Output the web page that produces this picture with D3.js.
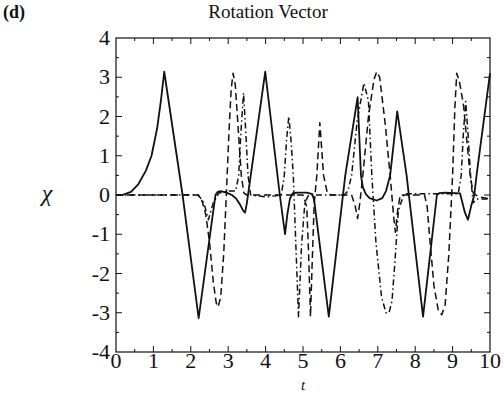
<!DOCTYPE html>
<html>
<head>
<meta charset="utf-8">
<script src="https://cdn.jsdelivr.net/npm/d3@7"></script>
<style>
  body { margin: 0; background: #fff; }
  text { font-family: "Liberation Serif", "DejaVu Serif", serif; fill: #111; }
</style>
</head>
<body>
<svg id="chart" width="504" height="399"></svg>
<script>
// Tick values for the frame
const xTicks = [0, 1, 2, 3, 4, 5, 6, 7, 8, 9, 10];
const yTicks = [-4, -3, -2, -1, 0, 1, 2, 3, 4];

// Component 1 (solid)
const tSolid = [0, 0.2, 0.4, 0.6, 0.8, 0.95, 1.1, 1.2, 1.29, 1.78, 2.21, 2.51, 2.66, 2.72, 2.8, 2.95, 3.1, 3.22, 3.32, 3.4, 3.45, 3.5, 3.99, 4.38, 4.52, 4.58, 4.65, 4.72, 4.85, 5.1, 5.25, 5.3, 5.37, 5.69, 6.13, 6.46, 6.55, 6.6, 6.68, 6.78, 6.97, 7.12, 7.22, 7.33, 7.52, 7.77, 8.21, 8.58, 8.65, 8.8, 9.2, 9.33, 9.41, 9.5, 9.58, 9.64, 10.0];
const vSolid = [0, 0.01, 0.08, 0.28, 0.62, 1.0, 1.7, 2.4, 3.14, 0, -3.14, -1.04, 0, 0.08, 0.1, 0.06, 0, -0.1, -0.25, -0.4, -0.45, -0.2, 3.14, 0, -1.0, -0.5, -0.1, 0.04, 0.06, 0.06, 0.02, -0.14, -0.68, -3.1, 0.5, 2.49, 0.5, 0.2, 0.02, -0.08, -0.14, -0.08, 0.1, 0.5, 2.13, 0.5, -3.1, 0, 0.05, 0.06, 0.04, -0.45, -0.63, -0.27, 0, 0.5, 3.1];

// Component 2 (dashed)
const tDash = [0, 2.2, 2.3, 2.4, 2.5, 2.6, 2.68, 2.73, 2.8, 2.88, 2.95, 3.02, 3.08, 3.13, 3.19, 3.26, 3.35, 3.42, 3.5, 4.4, 5.0, 5.1, 5.15, 5.2, 5.25, 5.3, 5.37, 5.45, 5.55, 5.65, 5.75, 6.3, 6.4, 6.46, 6.52, 6.6, 6.75, 6.9, 6.97, 7.05, 7.2, 7.33, 7.42, 7.47, 7.53, 7.6, 8.25, 8.32, 8.38, 8.5, 8.62, 8.71, 8.8, 8.9, 9.0, 9.06, 9.11, 9.18, 9.29, 9.4, 9.47, 9.55, 9.7, 10.0];
const vDash = [0, 0, -0.15, -0.5, -1.2, -2.2, -2.75, -2.85, -2.6, -1.5, 0, 1.6, 2.7, 3.1, 2.8, 1.8, 0.5, 0.05, 0, 0, 0, -0.3, -1.5, -3.1, -1.6, -0.2, 0.5, 1.84, 0.5, 0.05, 0, 0, -0.3, -0.6, -0.2, 0.5, 2.0, 2.95, 3.14, 3.0, 1.8, 0.5, -0.5, -0.95, -0.4, 0, 0, -0.3, -1.0, -2.3, -2.95, -3.05, -2.8, -1.5, 0.5, 2.2, 3.1, 2.9, 2.3, 1.2, 0.5, 0.05, -0.05, -0.1];

// Component 3 (dash-dot)
const tDot = [0, 2.2, 2.35, 2.47, 2.6, 2.75, 3.0, 3.2, 3.28, 3.34, 3.41, 3.47, 3.53, 3.6, 4.0, 4.42, 4.5, 4.56, 4.62, 4.68, 4.74, 4.81, 4.88, 4.96, 5.05, 5.15, 6.1, 6.2, 6.3, 6.45, 6.63, 6.75, 6.84, 6.95, 7.1, 7.22, 7.3, 7.38, 7.45, 7.55, 7.7, 9.15, 9.23, 9.29, 9.35, 9.41, 9.48, 9.55, 9.65, 10.0];
const vDot = [0, 0, -0.2, -0.63, -0.2, 0.05, 0.1, 0.1, 0.5, 1.6, 2.6, 1.6, 0.5, 0.0, -0.05, 0, 0.5, 1.4, 2.0, 1.4, 0.5, -1.3, -3.1, -1.3, -0.2, 0, 0, 0.1, 0.5, 1.9, 2.85, 2.4, 0.5, -1.2, -2.6, -3.0, -3.0, -2.7, -1.8, -0.4, 0.03, 0.03, 0.5, 1.6, 2.38, 1.6, 0.5, -0.2, -0.1, -0.1];

const series = [
  { t: tSolid, v: vSolid, dash: null, width: 1.8 },
  { t: tDash, v: vDash, dash: "7,4", width: 1.5 },
  { t: tDot, v: vDot, dash: "6,3,1.5,3", width: 1.5 }
];

const svg = d3.select("#chart");
const margin = { left: 116, right: 14, top: 38, bottom: 47 };
const W = 504, H = 399;
const x = d3.scaleLinear().domain([0, 10]).range([margin.left, W - margin.right]);
const y = d3.scaleLinear().domain([-4, 4]).range([H - margin.bottom, margin.top]);

// Curves
const line = d3.line().x(d => x(d[0])).y(d => y(d[1]));
const plot = svg.append("g");
series.forEach(s => {
  const pts = s.t.map((tt, i) => [tt, s.v[i]]);
  plot.append("path")
    .attr("d", line(pts))
    .attr("fill", "none")
    .attr("stroke", "#111")
    .attr("stroke-width", s.width)
    .attr("stroke-linejoin", "round")
    .attr("stroke-dasharray", s.dash);
});

// Frame with inward ticks on all four sides
const frame = svg.append("g");
frame.append("rect")
  .attr("x", x(0)).attr("y", y(4))
  .attr("width", x(10) - x(0)).attr("height", y(-4) - y(4))
  .attr("fill", "none").attr("stroke", "#111").attr("stroke-width", 1.2);

const xMinor = d3.range(0.5, 10, 1);
const yMinor = d3.range(-3.5, 4, 1);
function hTicks(vals, len) {
  vals.forEach(v => {
    frame.append("line").attr("x1", x(v)).attr("x2", x(v))
      .attr("y1", y(-4)).attr("y2", y(-4) - len).attr("stroke", "#111");
    frame.append("line").attr("x1", x(v)).attr("x2", x(v))
      .attr("y1", y(4)).attr("y2", y(4) + len).attr("stroke", "#111");
  });
}
function vTicks(vals, len) {
  vals.forEach(v => {
    frame.append("line").attr("y1", y(v)).attr("y2", y(v))
      .attr("x1", x(0)).attr("x2", x(0) + len).attr("stroke", "#111");
    frame.append("line").attr("y1", y(v)).attr("y2", y(v))
      .attr("x1", x(10)).attr("x2", x(10) - len).attr("stroke", "#111");
  });
}
hTicks(xTicks.slice(1, -1), 6);
hTicks(xMinor, 3);
vTicks(yTicks.slice(1, -1), 6);
vTicks(yMinor, 3);

// Tick labels
svg.append("g").selectAll("text").data(xTicks).join("text")
  .attr("x", d => x(d)).attr("y", y(-4) + 16)
  .attr("text-anchor", "middle").attr("font-size", 22)
  .text(d => d);
svg.append("g").selectAll("text").data(yTicks).join("text")
  .attr("x", x(0) - 6).attr("y", d => y(d) + 7)
  .attr("text-anchor", "end").attr("font-size", 22)
  .text(d => d);

// Titles
svg.append("text").attr("x", 268).attr("y", 18)
  .attr("text-anchor", "middle").attr("font-size", 19).text("Rotation Vector");
svg.append("text").attr("x", 3).attr("y", 18)
  .attr("font-size", 18).attr("font-weight", "bold").text("(d)");
svg.append("text").attr("x", 47).attr("y", y(0) + 6)
  .attr("text-anchor", "middle").attr("font-size", 24).attr("font-style", "italic").text("χ");
svg.append("text").attr("x", 303).attr("y", 390)
  .attr("text-anchor", "middle").attr("font-size", 15).attr("font-style", "italic").text("t");
</script>
</body>
</html>
